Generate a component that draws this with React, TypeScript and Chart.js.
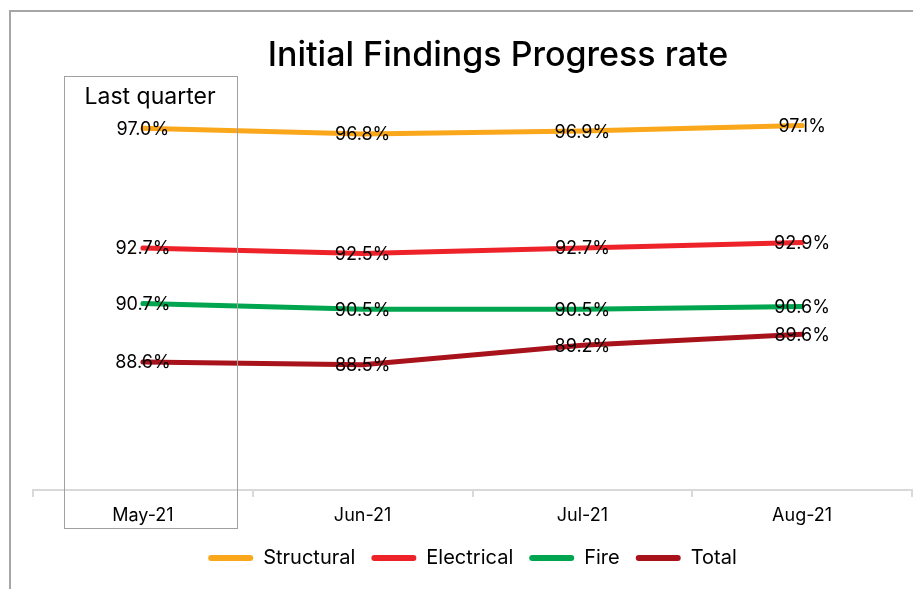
import React, { useEffect, useRef } from "react";
import { Chart, registerables } from "chart.js";

Chart.register(...registerables);

const categories = ["May-21", "Jun-21", "Jul-21", "Aug-21"];
const structural = [97.0, 96.8, 96.9, 97.1];
const electrical = [92.7, 92.5, 92.7, 92.9];
const fire = [90.7, 90.5, 90.5, 90.6];
const total = [88.6, 88.5, 89.2, 89.6];
const seriesNames = ["Structural", "Electrical", "Fire", "Total"];
const seriesColors = ["#FBA71B", "#EE2229", "#00A54F", "#A8121B"];
const titleText = "Initial Findings Progress rate";
const yMin = 84;
const yMax = 98;
const FONT = "Inter, 'Noto Sans', sans-serif";

const framePlugin = {
  id: "frame",
  beforeDraw(chart: any) {
    const ctx = chart.ctx;
    ctx.save();
    ctx.fillStyle = "#ffffff";
    ctx.fillRect(0, 0, chart.width, chart.height);
    ctx.strokeStyle = "#A6A6A6";
    ctx.lineWidth = 2;
    ctx.strokeRect(10, 11, chart.width + 20, chart.height + 20);
    ctx.font = `500 34px ${FONT}`;
    ctx.fillStyle = "#000000";
    ctx.textAlign = "center";
    ctx.textBaseline = "middle";
    ctx.fillText(titleText, 498, 56);
    ctx.restore();
  },
};

const labelsPlugin = {
  id: "pointLabels",
  afterDatasetsDraw(chart: any) {
    const ctx = chart.ctx;
    ctx.save();
    ctx.font = `18px ${FONT}`;
    ctx.fillStyle = "#000000";
    ctx.textAlign = "center";
    ctx.textBaseline = "middle";
    chart.data.datasets.forEach((ds: any, i: number) => {
      const meta = chart.getDatasetMeta(i);
      meta.data.forEach((el: any, j: number) => {
        ctx.fillText(`${Number(ds.data[j]).toFixed(1)}%`, el.x, el.y + 1);
      });
    });
    ctx.restore();
  },
};

const quarterPlugin = {
  id: "lastQuarter",
  afterDraw(chart: any) {
    const ctx = chart.ctx;
    const xs = chart.scales.x;
    const x0 = xs.getPixelForValue(0);
    const step = xs.getPixelForValue(1) - x0;
    const left = x0 - 0.36 * step;
    const right = x0 + 0.425 * step;
    const top = chart.chartArea.top - 25;
    const bottom = xs.top + 37;
    ctx.save();
    ctx.strokeStyle = "#A0A0A0";
    ctx.lineWidth = 1;
    ctx.strokeRect(Math.round(left) + 0.5, Math.round(top) + 0.5, Math.round(right - left), Math.round(bottom - top));
    ctx.font = `23px ${FONT}`;
    ctx.fillStyle = "#000000";
    ctx.textAlign = "center";
    ctx.textBaseline = "middle";
    ctx.fillText("Last quarter", (left + right) / 2, top + 22);
    ctx.restore();
  },
};

export default function App() {
  const ref = useRef<HTMLCanvasElement | null>(null);
  useEffect(() => {
    if (!ref.current) return;
    const all = [structural, electrical, fire, total];
    const chart = new Chart(ref.current, {
      type: "line",
      data: {
        labels: categories,
        datasets: all.map((d, i) => ({
          label: seriesNames[i],
          data: d,
          borderColor: seriesColors[i],
          backgroundColor: seriesColors[i],
          borderWidth: 5,
          borderCapStyle: "round",
          pointRadius: 0,
          pointHoverRadius: 0,
          tension: 0,
          fill: false,
        })),
      },
      options: {
        animation: false,
        responsive: true,
        maintainAspectRatio: false,
        layout: { padding: { left: 33, right: 1, top: 100.5, bottom: 11 } },
        plugins: {
          tooltip: { enabled: false },
          title: { display: false },
          legend: {
            position: "bottom",
            labels: {
              color: "#000000",
              font: { family: FONT, size: 20 },
              boxWidth: 45,
              boxHeight: 6,
              padding: 16,
              useBorderRadius: true,
              borderRadius: 3,
              generateLabels: (c: any) =>
                c.data.datasets.map((ds: any, i: number) => ({
                  text: ds.label,
                  fillStyle: ds.borderColor,
                  strokeStyle: ds.borderColor,
                  lineWidth: 0,
                  borderRadius: 3,
                  datasetIndex: i,
                  hidden: false,
                  fontColor: "#000000",
                })),
            },
          },
        },
        scales: {
          x: {
            offset: true,
            grid: {
              offset: true,
              drawOnChartArea: false,
              drawTicks: true,
              tickLength: 7,
              color: "#D9D9D9",
              lineWidth: 2,
            },
            border: { display: true, color: "#D9D9D9", width: 2 },
            ticks: {
              color: "#000000",
              font: { family: FONT, size: 18 },
              padding: 8,
            },
            afterFit: (scale: any) => {
              scale.height = 42;
            },
          },
          y: {
            display: false,
            min: yMin,
            max: yMax,
          },
        },
      },
      plugins: [framePlugin, labelsPlugin, quarterPlugin],
    } as any);
    return () => chart.destroy();
  }, []);
  return (
    <div style={{ position: "fixed", left: 0, top: 0, width: 913, height: 589 }}>
      <canvas ref={ref} />
    </div>
  );
}
